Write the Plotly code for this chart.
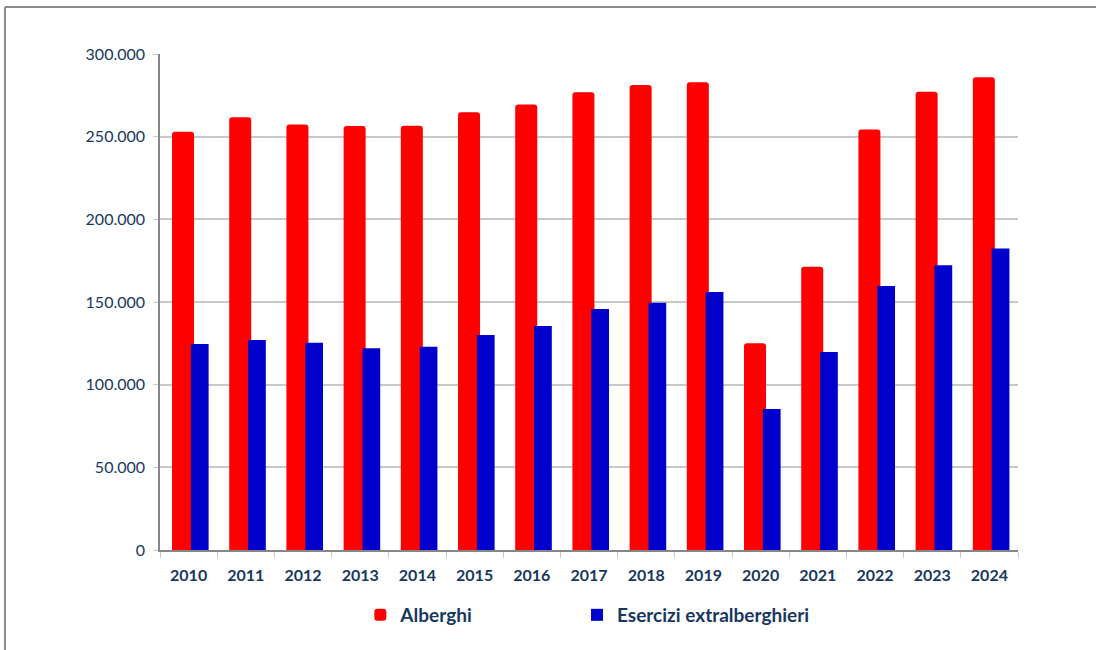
import plotly.graph_objects as go

# anni e presenze
anni = ["2010", "2011", "2012", "2013", "2014", "2015", "2016", "2017",
        "2018", "2019", "2020", "2021", "2022", "2023", "2024"]
alberghi = [253000, 261700, 257400, 256400, 256600, 264700, 269500, 276800,
            281200, 282900, 125000, 171300, 254400, 277200, 285900]
extralberghieri = [124600, 127000, 125400, 122000, 123000, 130000, 135500, 145800,
                   149600, 156000, 85300, 119800, 159700, 172200, 182400]

TEXT = "#17375E"
FONT = "Lato"
legend_font = dict(family=FONT, size=19, color=TEXT, weight="bold")

fig = go.Figure()
fig.add_trace(go.Bar(x=anni, y=alberghi, name="Alberghi", legend="legend",
                     marker=dict(color="#FF0000", cornerradius=3, line_width=0),
                     width=0.385, offset=-0.29))
fig.add_trace(go.Bar(x=anni, y=extralberghieri, name="Esercizi extralberghieri",
                     legend="legend2",
                     marker=dict(color="#0000CC", line_width=0),
                     width=0.31, offset=0.04))

# cornice esterna (solo lati sinistro e superiore visibili)
fig.add_shape(type="line", xref="paper", yref="paper", x0=-0.1807, x1=-0.1807,
              y0=-0.5, y1=1.0948, line=dict(color="#8C8C8C", width=2))
fig.add_shape(type="line", xref="paper", yref="paper", x0=-0.1807, x1=1.2,
              y0=1.0948, y1=1.0948, line=dict(color="#8C8C8C", width=2))

fig.update_layout(
    width=1096, height=650,
    margin=dict(l=160, r=78, t=54, b=100),
    paper_bgcolor="white", plot_bgcolor="white",
    barmode="overlay",
    separators=",.",
    font=dict(family=FONT, color=TEXT, size=16),
    showlegend=True,
    legend=dict(orientation="h", x=0.2335, xanchor="left", y=-0.131, yanchor="middle",
                font=legend_font, itemwidth=30),
    legend2=dict(orientation="h", x=0.486, xanchor="left", y=-0.131, yanchor="middle",
                 font=legend_font, itemwidth=30),
)
fig.update_xaxes(type="category", showline=True, linecolor="#868686", linewidth=1.5,
                 ticks="outside", tickson="boundaries", ticklen=6, tickcolor="#C8C8C8",
                 ticklabelstandoff=10,
                 tickfont=dict(family=FONT, size=16, color=TEXT, weight="bold"),
                 showgrid=False)
fig.update_yaxes(range=[0, 300000], dtick=50000, tickformat=",d",
                 showline=True, linecolor="#868686", linewidth=1.5,
                 showgrid=True, gridcolor="#C8C8C8", gridwidth=1.5,
                 ticks="outside", ticklen=5, tickcolor="#C8C8C8",
                 ticklabelstandoff=5,
                 tickfont=dict(family=FONT, size=16, color=TEXT),
                 zeroline=False)

# niente margine di pagina attorno al grafico
fig.write_html("out.html", config={"displayModeBar": False},
               post_script="document.body.style.margin = '0';")
